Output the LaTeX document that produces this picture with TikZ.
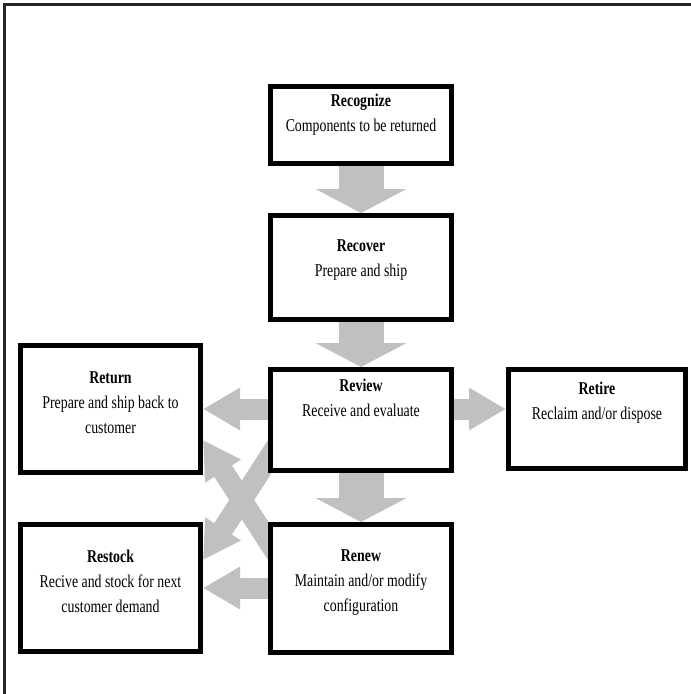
\documentclass[tikz,border=0pt]{standalone}
\usepackage{fontspec}
\setmainfont{Liberation Serif}[FakeStretch=0.77]
\usetikzlibrary{arrows.meta,positioning,calc,backgrounds}
\definecolor{arrowgray}{RGB}{192,192,192}

\begin{document}
\begin{tikzpicture}[x=1pt,y=-1pt,
    box/.style={draw, line width=5pt, fill=white, inner sep=0pt},
    boxtext/.style={align=center, inner sep=0pt, font=\fontsize{18}{25}\selectfont},
    bigarrow/.style={arrowgray, line width=45pt, -{Triangle[length=24pt,width=90pt]}},
    thinarrow/.style={arrowgray, line width=21pt, -{Triangle[length=37pt,width=40pt]}}]

    \useasboundingbox (0,0) rectangle (691,694);

    % Ramka
    \draw[line width=2.2pt, black!85] (4.5,694) -- (4.5,4.5) -- (691,4.5);

    % Srodkowa kolumna
    \node[box, minimum width=181pt, minimum height=77pt] (recognize) at (361,125) {};
    \node[box, minimum width=181pt, minimum height=104pt] (recover) at (361,267.5) {};
    \node[box, minimum width=181pt, minimum height=101pt] (review) at (361,420) {};
    \node[box, minimum width=181pt, minimum height=128pt] (renew) at (361,588.5) {};

    % Lewa kolumna
    \node[box, minimum width=180pt, minimum height=127pt] (return) at (110.5,409) {};
    \node[box, minimum width=180pt, minimum height=127pt] (restock) at (110.5,588) {};

    % Prawa kolumna
    \node[box, minimum width=177pt, minimum height=99pt] (retire) at (597,419) {};

    % Opisy
    \node[boxtext, below=10pt of recognize.north] (recognizetext) {\textbf{Recognize}\\Components to be returned};
    \node[boxtext, below=27pt of recover.north] (recovertext) {\textbf{Recover}\\Prepare and ship};
    \node[boxtext, below=12pt of review.north] (reviewtext) {\textbf{Review}\\Receive and evaluate};
    \node[boxtext, below=15pt of retire.north] (retiretext) {\textbf{Retire}\\Reclaim and/or dispose};
    \node[boxtext, below=29pt of return.north] (returntext) {\textbf{Return}\\Prepare and ship back to\\customer};
    \node[boxtext, below=28pt of restock.north] (restocktext) {\textbf{Restock}\\Recive and stock for next\\customer demand};
    \node[boxtext, below=28pt of renew.north] (renewtext) {\textbf{Renew}\\Maintain and/or modify\\configuration};

    % Strzalki po przekatnej
    \coordinate (crossA) at ($(review.south west)+(17,-40)$);
    \coordinate (crossAend) at ($(restock.east)+(0,-28)$);
    \coordinate (crossB) at ($(renew.north west)+(17,45)$);
    \coordinate (crossBend) at ($(return.east)+(0,31)$);

    % Strzalki
    \begin{scope}[on background layer]
        \draw[bigarrow] (recognize.south) -- (recover.north);
        \draw[bigarrow] (recover.south) -- (review.north);
        \draw[bigarrow] (review.south) -- (renew.north);
        \draw[thinarrow] (review.east |- return.east) -- (retire.west |- return.east);
        \draw[thinarrow] (review.west |- return.east) -- (return.east);
        \draw[thinarrow] (renew.west |- restock.east) -- (restock.east);
        \draw[thinarrow] (crossA) -- (crossAend);
        \draw[thinarrow] (crossB) -- (crossBend);
    \end{scope}

\end{tikzpicture}
\end{document}
